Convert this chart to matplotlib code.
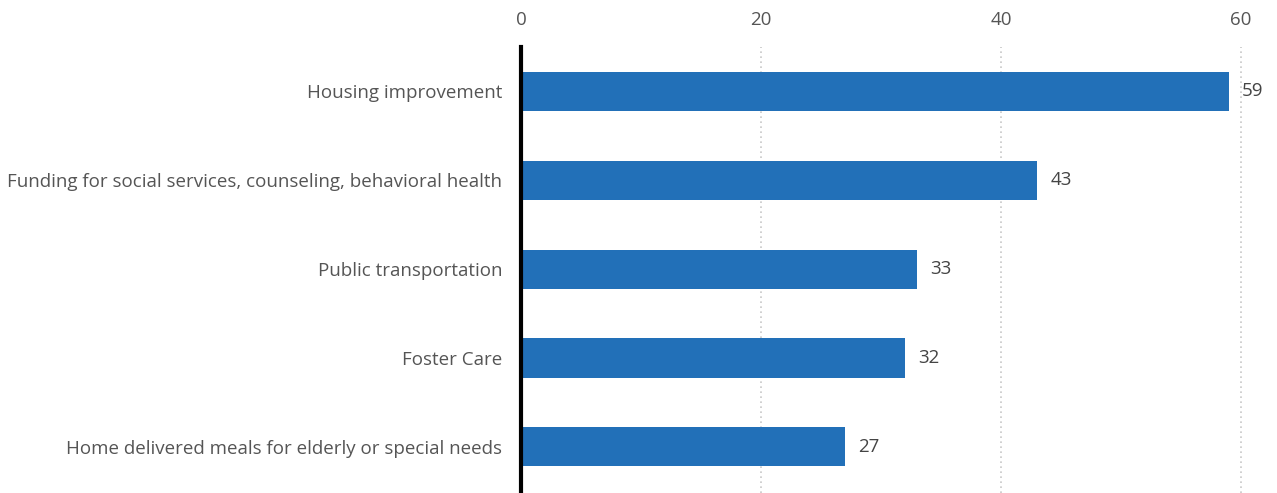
import matplotlib.pyplot as plt
import numpy as np

categories = [
    "Housing improvement",
    "Funding for social services, counseling, behavioral health",
    "Public transportation",
    "Foster Care",
    "Home delivered meals for elderly or special needs",
]
values = [59, 43, 33, 32, 27]
ticks = [0, 20, 40, 60]

plt.rcParams["font.family"] = ["Open Sans", "DejaVu Sans"]

fig = plt.figure(figsize=(12.77, 4.93), dpi=100)
ax = fig.add_axes([521 / 1277, 0, 1 - 521 / 1277, 446 / 493])

y = np.arange(len(categories))
ax.barh(y, values, height=0.44, color="#2270b8", zorder=3)

for yi, v in zip(y, values):
    ax.text(v + 1.1, yi, str(v), va="center", ha="left", fontsize=13.5, color="#444444")

ax.set_xlim(0, 63)
ax.set_ylim(4.52, -0.5)
ax.set_yticks(y)
ax.set_yticklabels(categories, fontsize=13.5, color="#555555")
ax.set_xticks(ticks)
ax.xaxis.tick_top()
ax.tick_params(axis="x", length=0, pad=13, labelsize=13.5, labelcolor="#555555")
ax.tick_params(axis="y", length=0, pad=13.5)

ax.grid(axis="x", linestyle=(0, (1, 2)), color="#c8c8c8", linewidth=1.2, zorder=0)
for side in ["top", "right", "bottom"]:
    ax.spines[side].set_visible(False)
ax.spines["left"].set_linewidth(3)
ax.spines["left"].set_color("black")
ax.spines["left"].set_zorder(4)

fig.savefig("out.png", dpi=100)
